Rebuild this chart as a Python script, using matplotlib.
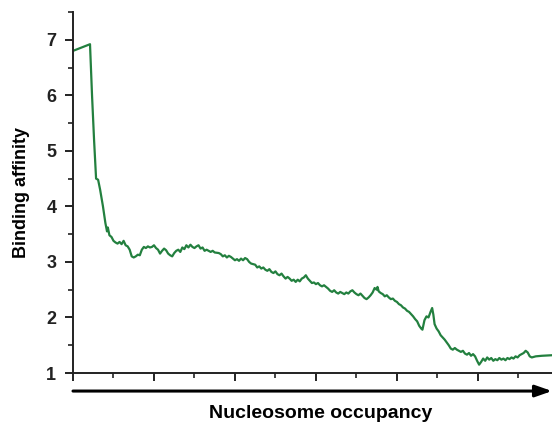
import matplotlib
matplotlib.use("Agg")
import matplotlib.pyplot as plt
from matplotlib.ticker import MultipleLocator, NullFormatter

occupancy = [0.00, 0.42, 0.47, 0.52, 0.57, 0.62, 0.67, 0.74, 0.80, 0.84, 0.86, 0.90, 0.95,
             1.00, 1.05, 1.10, 1.15, 1.20, 1.25, 1.30, 1.35, 1.40, 1.45, 1.50, 1.55, 1.60, 1.65,
             1.70, 1.75, 1.80, 1.85, 1.90, 1.95, 2.00, 2.05, 2.10, 2.15, 2.20, 2.25, 2.30, 2.35,
             2.40, 2.45, 2.50, 2.55, 2.60, 2.65, 2.70, 2.75, 2.80, 2.85, 2.90, 2.95, 3.00, 3.05,
             3.10, 3.15, 3.20, 3.25, 3.30, 3.40, 3.45, 3.50, 3.60, 3.65, 3.70, 3.75, 3.80, 3.85,
             3.90, 3.95, 4.00, 4.05, 4.10, 4.15, 4.20, 4.25, 4.30, 4.35, 4.40, 4.50, 4.55, 4.60,
             4.65, 4.70, 4.75, 4.80, 4.85, 4.90, 4.95, 5.00, 5.05, 5.10, 5.15, 5.20, 5.25, 5.30,
             5.35, 5.40, 5.45, 5.50, 5.55, 5.60, 5.65, 5.70, 5.75, 5.80, 5.85, 5.90, 5.95, 6.00,
             6.05, 6.10, 6.15, 6.20, 6.25, 6.30, 6.35, 6.40, 6.45, 6.50, 6.55, 6.60, 6.65, 6.70,
             6.75, 6.80, 6.85, 6.90, 6.95, 7.00, 7.05, 7.10, 7.15, 7.20, 7.25, 7.30, 7.35, 7.40,
             7.45, 7.50, 7.52, 7.55, 7.60, 7.65, 7.70, 7.75, 7.80, 7.85, 7.90, 7.95, 8.00, 8.05,
             8.10, 8.15, 8.20, 8.25, 8.30, 8.35, 8.40, 8.45, 8.50, 8.55, 8.60, 8.63, 8.68, 8.73,
             8.78, 8.83, 8.87, 8.90, 8.93, 8.98, 9.03, 9.08, 9.13, 9.18, 9.23, 9.28, 9.33, 9.38,
             9.43, 9.48, 9.53, 9.58, 9.63, 9.68, 9.73, 9.78, 9.83, 9.88, 9.93, 9.98, 10.03, 10.08,
             10.13, 10.18, 10.23, 10.28, 10.33, 10.38, 10.43, 10.48, 10.53, 10.58, 10.63, 10.68,
             10.73, 10.78, 10.83, 10.88, 10.93, 10.98, 11.03, 11.08, 11.13, 11.18, 11.23, 11.28,
             11.33, 11.43, 11.58, 11.83]

affinity = [6.80, 6.92, 6.00, 5.20, 4.50, 4.48, 4.30, 4.00, 3.70, 3.55, 3.62, 3.48, 3.45,
            3.38, 3.35, 3.33, 3.36, 3.32, 3.38, 3.30, 3.28, 3.22, 3.10, 3.08, 3.10, 3.13, 3.12,
            3.22, 3.27, 3.25, 3.28, 3.26, 3.27, 3.30, 3.25, 3.22, 3.15, 3.20, 3.24, 3.21, 3.15,
            3.12, 3.10, 3.16, 3.20, 3.22, 3.18, 3.26, 3.23, 3.30, 3.26, 3.31, 3.27, 3.25, 3.28,
            3.30, 3.24, 3.26, 3.20, 3.22, 3.18, 3.20, 3.17, 3.16, 3.14, 3.10, 3.12, 3.08, 3.11,
            3.09, 3.06, 3.03, 3.05, 3.02, 3.06, 3.03, 3.07, 3.05, 3.00, 2.97, 2.95, 2.90, 2.92,
            2.88, 2.90, 2.86, 2.84, 2.87, 2.82, 2.80, 2.83, 2.78, 2.76, 2.79, 2.74, 2.70, 2.73,
            2.70, 2.66, 2.68, 2.64, 2.68, 2.65, 2.70, 2.72, 2.76, 2.70, 2.66, 2.62, 2.63, 2.60,
            2.62, 2.58, 2.56, 2.58, 2.55, 2.52, 2.48, 2.46, 2.49, 2.45, 2.43, 2.46, 2.44, 2.42,
            2.45, 2.43, 2.47, 2.49, 2.45, 2.42, 2.40, 2.43, 2.39, 2.35, 2.33, 2.36, 2.40, 2.45,
            2.53, 2.50, 2.55, 2.47, 2.44, 2.42, 2.38, 2.40, 2.36, 2.33, 2.34, 2.30, 2.28, 2.24,
            2.22, 2.18, 2.16, 2.12, 2.10, 2.06, 2.02, 1.97, 1.93, 1.85, 1.80, 1.78, 1.95, 2.02,
            2.00, 2.10, 2.17, 2.05, 1.88, 1.80, 1.75, 1.68, 1.64, 1.60, 1.55, 1.50, 1.44, 1.42,
            1.45, 1.42, 1.40, 1.38, 1.40, 1.35, 1.33, 1.36, 1.31, 1.34, 1.30, 1.22, 1.15, 1.20,
            1.26, 1.22, 1.28, 1.24, 1.27, 1.22, 1.25, 1.23, 1.27, 1.24, 1.26, 1.23,
            1.27, 1.25, 1.28, 1.26, 1.30, 1.28, 1.32, 1.34, 1.36, 1.40, 1.37, 1.30,
            1.28, 1.30, 1.31, 1.32]

y_ticks = [1, 2, 3, 4, 5, 6, 7]

plt.rcParams['font.family'] = ['Liberation Sans', 'DejaVu Sans']

fig = plt.figure(figsize=(5.52, 4.23), dpi=100)
ax = fig.add_axes([73 / 552, 50 / 423, 479 / 552, 361 / 423])

ax.plot(occupancy, affinity, color='#23803f', linewidth=1.6)

ax.set_xlim(0, 11.83)
ax.set_ylim(1, 7.5)
ax.set_yticks(y_ticks)
ax.yaxis.set_minor_locator(MultipleLocator(0.5))
ax.xaxis.set_major_locator(MultipleLocator(2))
ax.xaxis.set_minor_locator(MultipleLocator(1))
ax.xaxis.set_major_formatter(NullFormatter())

for s in ['top', 'right']:
    ax.spines[s].set_visible(False)
for s in ['left', 'bottom']:
    ax.spines[s].set_linewidth(1.4)
    ax.spines[s].set_color('#222222')

ax.tick_params(which='major', direction='out', length=6, width=1.4, colors='#222222')
ax.tick_params(which='minor', direction='out', length=3.5, width=1.2, colors='#222222')
ax.tick_params(axis='y', labelsize=13, pad=6)
for lbl in ax.get_yticklabels():
    lbl.set_fontweight('bold')

fig.text(22 / 552, 1 - 192 / 423, 'Binding affinity', fontsize=13, fontweight='bold',
         rotation=90, ha='center', va='center')

ax.annotate('', xy=(1.0, -0.05), xytext=(0.0, -0.05), xycoords='axes fraction',
            textcoords='axes fraction', annotation_clip=False,
            arrowprops=dict(arrowstyle='-|>,head_length=1.0,head_width=0.35',
                            color='black', lw=2.2, shrinkA=0, shrinkB=0))

fig.text(321 / 552, 1 - 413 / 423, 'Nucleosome occupancy', fontsize=14,
         fontweight='bold', ha='center', va='center')

fig.savefig('out.png', dpi=100)
